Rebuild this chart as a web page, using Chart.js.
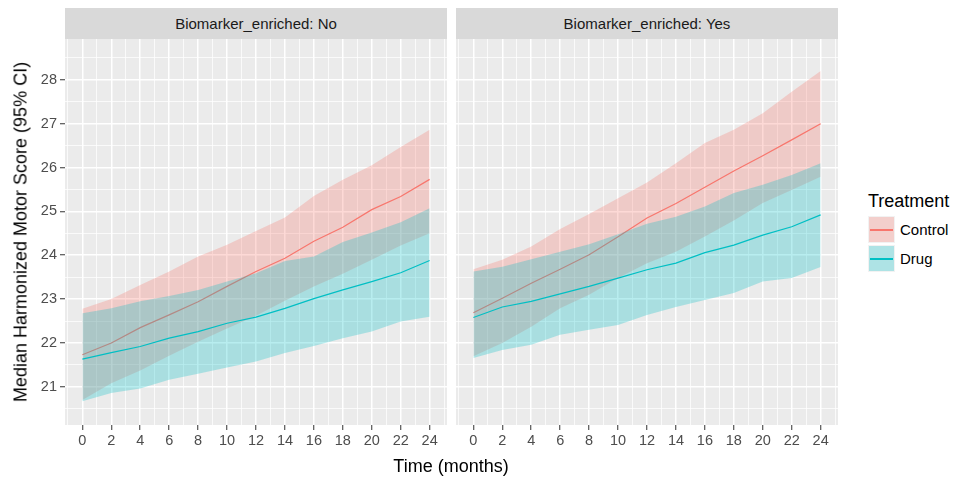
<!DOCTYPE html>
<html>
<head>
<meta charset="utf-8">
<script src="https://cdn.jsdelivr.net/npm/chart.js@4.4.1/dist/chart.umd.min.js"></script>
<style>
  html, body { margin: 0; padding: 0; background: #FFFFFF; }
  body { width: 954px; height: 478px; position: relative; overflow: hidden;
         font-family: "Liberation Sans", Arial, sans-serif; }
  canvas { position: absolute; }
  .strip { position: absolute; top: 8px; height: 31px; width: 382px; background: #D9D9D9;
           color: #1A1A1A; font-size: 15px; line-height: 31px; text-align: center; }
  .title { position: absolute; color: #000; font-size: 18px; white-space: nowrap; }
  .key { position: absolute; left: 868px; width: 27px; height: 27px; background: #F2F2F2; }
  .key .fill { position: absolute; left: 1px; top: 1px; right: 1px; bottom: 1px; }
  .key .ln { position: absolute; left: 2px; right: 2px; top: 13px; height: 1.5px; }
  .lab { position: absolute; left: 900px; font-size: 15px; color: #000; line-height: 18px; }
</style>
</head>
<body>
<div class="strip" style="left:65px;">Biomarker_enriched: No</div>
<div class="strip" style="left:456px;">Biomarker_enriched: Yes</div>
<canvas id="pNo" width="447" height="420" style="left:0px;top:39px;"></canvas>
<canvas id="pYes" width="382" height="420" style="left:456px;top:39px;"></canvas>
<div class="title" style="left:451px;top:466px;transform:translate(-50%,-50%);">Time (months)</div>
<div class="title" style="left:21px;top:232px;transform:translate(-50%,-50%) rotate(-90deg);">Median Harmonized Motor Score (95% CI)</div>
<div class="title" style="left:868px;top:190px;line-height:22px;">Treatment</div>
<div class="key" style="top:216px;"><div class="fill" style="background:rgba(248,118,109,0.28)"></div><div class="ln" style="background:#F8766D"></div></div>
<div class="key" style="top:245px;"><div class="fill" style="background:rgba(0,191,196,0.28)"></div><div class="ln" style="background:#00BFC4"></div></div>
<div class="lab" style="top:221px;">Control</div>
<div class="lab" style="top:250px;">Drug</div>
<script>
// ---- data ----
const months = [0, 2, 4, 6, 8, 10, 12, 14, 16, 18, 20, 22, 24];
const xTickLabels = [0, 2, 4, 6, 8, 10, 12, 14, 16, 18, 20, 22, 24];
const yTickLabels = [21, 22, 23, 24, 25, 26, 27, 28];
const treatments = ["Control", "Drug"];
const facets = ["Biomarker_enriched: No", "Biomarker_enriched: Yes"];

// Biomarker_enriched: No
const controlMedianNo = [21.73, 22.00, 22.35, 22.64, 22.94, 23.29, 23.63, 23.93, 24.32, 24.64, 25.04, 25.34, 25.73];
const controlUpperNo  = [22.78, 23.00, 23.32, 23.63, 23.97, 24.24, 24.55, 24.86, 25.35, 25.72, 26.05, 26.47, 26.86];
const controlLowerNo  = [20.70, 21.08, 21.37, 21.71, 22.03, 22.33, 22.62, 22.96, 23.29, 23.58, 23.90, 24.22, 24.50];
const drugMedianNo    = [21.63, 21.78, 21.92, 22.11, 22.26, 22.45, 22.59, 22.79, 23.01, 23.21, 23.40, 23.60, 23.88];
const drugUpperNo     = [22.68, 22.79, 22.95, 23.07, 23.21, 23.40, 23.59, 23.87, 23.97, 24.30, 24.52, 24.75, 25.07];
const drugLowerNo     = [20.67, 20.86, 20.96, 21.16, 21.30, 21.44, 21.58, 21.77, 21.93, 22.11, 22.26, 22.49, 22.60];

// Biomarker_enriched: Yes
const controlMedianYes = [22.69, 23.02, 23.36, 23.68, 24.01, 24.42, 24.85, 25.18, 25.55, 25.92, 26.27, 26.63, 27.00];
const controlUpperYes  = [23.68, 23.90, 24.20, 24.60, 24.94, 25.30, 25.66, 26.10, 26.56, 26.86, 27.24, 27.73, 28.20];
const controlLowerYes  = [21.70, 22.00, 22.37, 22.79, 23.10, 23.48, 23.82, 24.08, 24.43, 24.79, 25.19, 25.49, 25.79];
const drugMedianYes    = [22.58, 22.82, 22.95, 23.12, 23.29, 23.48, 23.67, 23.82, 24.06, 24.23, 24.46, 24.65, 24.92];
const drugUpperYes     = [23.63, 23.74, 23.91, 24.08, 24.25, 24.48, 24.72, 24.88, 25.11, 25.42, 25.61, 25.83, 26.10];
const drugLowerYes     = [21.66, 21.84, 21.96, 22.19, 22.30, 22.41, 22.64, 22.82, 22.98, 23.14, 23.40, 23.48, 23.73];

// ---- styling ----
const RED = "#F8766D", CYAN = "#00BFC4";
const RED_FILL = "rgba(248,118,109,0.28)", CYAN_FILL = "rgba(0,191,196,0.28)";
const FONT = "'Liberation Sans', Arial, sans-serif";

const xMin = -1.2, xMax = 25.2, yMin = 20.13, yMax = 28.93;
// gridline positions: major at tick labels, minor halfway between
const xGrid = [];
for (let v = -1; v <= 25; v++) xGrid.push(v);
const yGrid = [];
for (let v = 20.5; v <= 28.5; v += 0.5) yGrid.push(v);

const pts = (arr) => months.map((m, i) => ({ x: m, y: arr[i] }));

const panelBg = {
  id: "panelBg",
  beforeDraw(chart) {
    const a = chart.chartArea, c = chart.ctx;
    c.save(); c.fillStyle = "#EBEBEB"; c.fillRect(a.left, a.top, a.right - a.left, a.bottom - a.top); c.restore();
  }
};

function band(lower, upper, median, color, fill, baseOrder) {
  return [
    { label: "lower", data: pts(lower), borderWidth: 0, pointRadius: 0, fill: false, order: baseOrder + 2 },
    { label: "upper", data: pts(upper), borderWidth: 0, pointRadius: 0, fill: "-1", backgroundColor: fill, order: baseOrder + 1 },
    { label: "median", data: pts(median), borderColor: color, borderWidth: 1.2, pointRadius: 0, fill: false, order: baseOrder }
  ];
}

function makePanel(id, showY, cm, cu, cl, dm, du, dl) {
  const isMajorX = (v) => xTickLabels.includes(v);
  const isMajorY = (v) => yTickLabels.includes(v);
  new Chart(document.getElementById(id), {
    type: "line",
    data: {
      datasets: [
        ...band(cl, cu, cm, RED, RED_FILL, 4),
        ...band(dl, du, dm, CYAN, CYAN_FILL, 1)
      ]
    },
    plugins: [panelBg],
    options: {
      responsive: false,
      animation: false,
      devicePixelRatio: 1,
      layout: { padding: 0, autoPadding: false },
      elements: { line: { tension: 0 } },
      plugins: {
        legend: { display: false },
        tooltip: { enabled: false },
        filler: { drawTime: "beforeDatasetDraw", propagate: false }
      },
      scales: {
        x: {
          type: "linear", min: xMin, max: xMax,
          afterBuildTicks: (s) => { s.ticks = xGrid.map(v => ({ value: v })); },
          afterFit: (s) => { s.height = 34; s.paddingLeft = 0; s.paddingRight = 0; },
          ticks: {
            autoSkip: false, maxRotation: 0, padding: 2,
            color: "#4D4D4D", font: { family: FONT, size: 14.5 },
            callback: (v) => isMajorX(v) ? String(v) : ""
          },
          grid: {
            color: "#FFFFFF",
            lineWidth: (c) => isMajorX(c.tick.value) ? 1.5 : 0.75,
            tickLength: 5, tickWidth: 1,
            tickColor: (c) => isMajorX(c.tick.value) ? "#333333" : "rgba(0,0,0,0)"
          },
          border: { display: false }
        },
        y: {
          type: "linear", min: yMin, max: yMax,
          afterBuildTicks: (s) => { s.ticks = yGrid.map(v => ({ value: v })); },
          afterFit: (s) => { s.width = showY ? 65 : 0; s.paddingTop = 0; s.paddingBottom = 0; },
          ticks: {
            display: showY, autoSkip: false, padding: 3,
            color: "#4D4D4D", font: { family: FONT, size: 14.5 },
            callback: (v) => isMajorY(v) ? String(v) : ""
          },
          grid: {
            color: "#FFFFFF",
            lineWidth: (c) => isMajorY(c.tick.value) ? 1.5 : 0.75,
            drawTicks: showY,
            tickLength: 5, tickWidth: 1,
            tickColor: (c) => isMajorY(c.tick.value) ? "#333333" : "rgba(0,0,0,0)"
          },
          border: { display: false }
        }
      }
    }
  });
}

makePanel("pNo", true, controlMedianNo, controlUpperNo, controlLowerNo, drugMedianNo, drugUpperNo, drugLowerNo);
makePanel("pYes", false, controlMedianYes, controlUpperYes, controlLowerYes, drugMedianYes, drugUpperYes, drugLowerYes);
</script>
</body>
</html>
